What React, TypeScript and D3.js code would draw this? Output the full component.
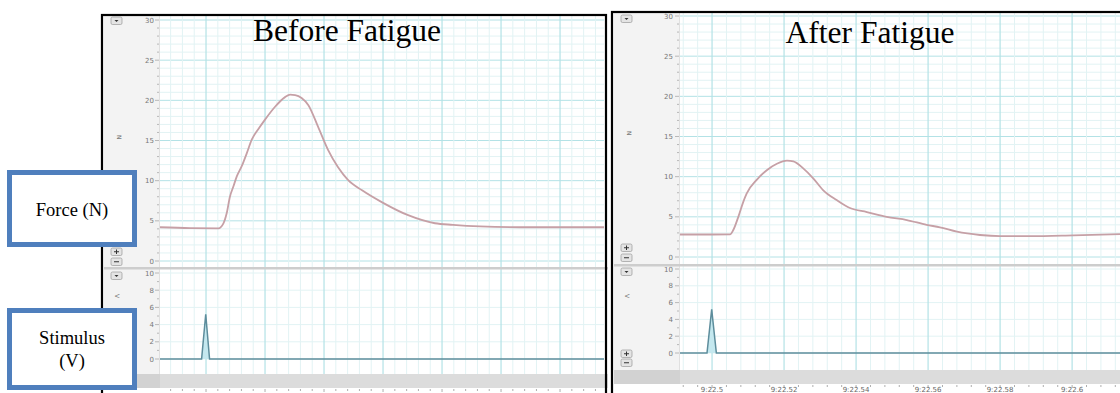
import React from "react";
import * as d3 from "d3";

// ---------- DATA ----------
// Before fatigue: time (s, relative to stimulus) and force (N)
const beforeTime = [-0.0156, -0.0054, 0.0042, 0.0059, 0.007, 0.0081, 0.0093, 0.0104, 0.0121, 0.0138, 0.0155, 0.0177, 0.02, 0.0234, 0.0268, 0.0285, 0.0302, 0.0324, 0.0347, 0.038, 0.0414, 0.0447, 0.0481, 0.0529, 0.0597, 0.0685, 0.0776, 0.0837, 0.0929, 0.1064, 0.12, 0.1349];
const beforeForce = [4.2, 4.1, 4.07, 4.69, 5.94, 8.0, 9.3, 10.5, 11.8, 13.4, 15.1, 16.4, 17.6, 19.2, 20.4, 20.7, 20.65, 20.3, 19.4, 16.7, 13.8, 11.7, 10.1, 8.8, 7.3, 5.7, 4.7, 4.5, 4.3, 4.2, 4.2, 4.2];
const beforeStimTime = [-0.0156, -0.0015, -0.0001, 0.0012, 0.1349];
const beforeStim = [0, 0, 5.2, 0, 0];

// After fatigue: clock seconds (9:22.xx) and force (N)
const afterTime = [22.4911, 22.5, 22.505, 22.5059, 22.5073, 22.5087, 22.5096, 22.5124, 22.5152, 22.518, 22.5208, 22.5226, 22.5254, 22.5281, 22.5309, 22.5346, 22.5383, 22.543, 22.5485, 22.5541, 22.5596, 22.5633, 22.568, 22.5744, 22.58, 22.5883, 22.6003, 22.6133];
const afterForce = [2.8, 2.8, 2.82, 3.36, 5.0, 6.9, 7.9, 9.6, 10.8, 11.6, 12.0, 11.9, 11.0, 9.8, 8.3, 7.1, 6.1, 5.6, 5.0, 4.6, 4.0, 3.7, 3.15, 2.74, 2.6, 2.6, 2.7, 2.85];
const afterStimTime = [22.4911, 22.4986, 22.4999, 22.5012, 22.6133];
const afterStim = [0, 0, 5.2, 0, 0];

const forceTicks = [0, 5, 10, 15, 20, 25, 30];
const stimTicks = [0, 2, 4, 6, 8, 10];
const afterTimeTicks = [22.5, 22.52, 22.54, 22.56, 22.58, 22.6];
const afterTimeLabels = ["9:22.5", "9:22.52", "9:22.54", "9:22.56", "9:22.58", "9:22.6"];
const titles = ["Before Fatigue", "After Fatigue"];
const channelLabels = ["Force (N)", "Stimulus", "(V)"];

type Cfg = {
  bx: number; by: number; rx: number; plotL: number; plotR: number;
  tDomain: [number, number]; majorStart: number;
  fY: [number, number]; sY: [number, number]; divY: number; barY: number;
  time: number[]; force: number[]; stimT: number[]; stim: number[];
  labelR: number; title: string; titleX: number; titleY: number;
  showTimeLabels: boolean; btnY: number[]; unitY: number[];
};

function Button({ x, y, kind }: { x: number; y: number; kind: string }) {
  return (
    <g>
      <rect x={x} y={y} width={11} height={7.5} rx={1.5} fill="#e4e4e4" stroke="#9a9a9a" strokeWidth={0.7} />
      {kind === "down" && <path d={`M${x + 3.5},${y + 3} L${x + 7.5},${y + 3} L${x + 5.5},${y + 5} Z`} fill="#333" />}
      {kind === "plus" && <path d={`M${x + 3},${y + 3.75} H${x + 8} M${x + 5.5},${y + 1.5} V${y + 6}`} stroke="#333" strokeWidth={1} />}
      {kind === "minus" && <path d={`M${x + 3},${y + 3.75} H${x + 8}`} stroke="#333" strokeWidth={1} />}
    </g>
  );
}

function Panel({ c }: { c: Cfg }) {
  const x = d3.scaleLinear().domain(c.tDomain).range([c.plotL, c.plotR]);
  const fy = d3.scaleLinear().domain([0, 30]).range(c.fY);
  const sy = d3.scaleLinear().domain([0, 10]).range(c.sY);
  const majors: number[] = [];
  const minors: number[] = [];
  for (let k = -10; k < 60; k++) {
    const t = c.majorStart + k * 0.004;
    if (t < c.tDomain[0] || t > c.tDomain[1]) continue;
    if (k % 5 === 0) majors.push(t); else minors.push(t);
  }
  const fMinor = d3.range(0, 31, 1);
  const sMinor = d3.range(0, 11, 1);
  const inner = c.bx + 2;
  const forceTop = c.by + 1;
  const line = d3.line<number>().x((_, i) => x(c.time[i])).y((d) => fy(d)).curve(d3.curveMonotoneX);
  const sLine = d3.line<number>().x((_, i) => x(c.stimT[i])).y((d) => sy(d));
  const sArea = d3.area<number>().x((_, i) => x(c.stimT[i])).y0(sy(0)).y1((d) => sy(d));
  const gridMajor = "#b3e2e6";
  const gridMinor = "#e2f3f4";
  return (
    <g>
      <rect x={inner} y={c.by} width={c.plotL - inner} height={400 - c.by} fill="#f3f3f3" />
      <rect x={c.plotL} y={forceTop} width={c.plotR - c.plotL} height={c.divY - forceTop} fill="#fff" />
      <rect x={c.plotL} y={c.divY} width={c.plotR - c.plotL} height={c.barY - c.divY} fill="#fff" />
      {fMinor.map((v) => (
        <line key={"fh" + v} x1={c.plotL} x2={c.plotR} y1={fy(v)} y2={fy(v)} stroke={v % 5 === 0 ? gridMajor : gridMinor} strokeWidth={1} />
      ))}
      {sMinor.filter((v) => v % 2 === 0).map((v) => (
        <line key={"sh" + v} x1={c.plotL} x2={c.plotR} y1={sy(v)} y2={sy(v)} stroke={gridMinor} strokeWidth={1} />
      ))}
      {minors.map((t) => (
        <g key={"vm" + t}>
          <line x1={x(t)} x2={x(t)} y1={forceTop} y2={c.divY} stroke={gridMinor} />
          <line x1={x(t)} x2={x(t)} y1={c.divY} y2={c.barY} stroke={gridMinor} />
        </g>
      ))}
      {majors.map((t) => (
        <g key={"vM" + t}>
          <line x1={x(t)} x2={x(t)} y1={forceTop} y2={c.divY} stroke={gridMajor} strokeWidth={1.2} />
          <line x1={x(t)} x2={x(t)} y1={c.divY} y2={c.barY} stroke={gridMajor} strokeWidth={1.2} />
        </g>
      ))}
      <line x1={c.plotL - 0.5} x2={c.plotL - 0.5} y1={forceTop} y2={c.barY} stroke="#e0e0e0" />
      {fMinor.map((v) => (
        <line key={"fr" + v} x1={c.plotL - (v % 5 === 0 ? 5 : 3)} x2={c.plotL - 1} y1={fy(v)} y2={fy(v)} stroke="#a8a8a8" strokeWidth={0.8} />
      ))}
      {sMinor.map((v) => (
        <line key={"sr" + v} x1={c.plotL - (v % 2 === 0 ? 5 : 3)} x2={c.plotL - 1} y1={sy(v)} y2={sy(v)} stroke="#a8a8a8" strokeWidth={0.8} />
      ))}
      {forceTicks.map((v) => (
        <text key={"ft" + v} x={c.labelR} y={fy(v) + 2.5} fontSize={7} fill="#777" textAnchor="end" fontFamily="DejaVu Sans">{v}</text>
      ))}
      {stimTicks.map((v) => (
        <text key={"st" + v} x={c.labelR} y={sy(v) + 2.5} fontSize={7} fill="#777" textAnchor="end" fontFamily="DejaVu Sans">{v}</text>
      ))}
      <text x={inner + 13} y={c.unitY[0]} fontSize={6} fill="#777" transform={`rotate(90 ${inner + 13} ${c.unitY[0]})`} fontFamily="DejaVu Sans">N</text>
      <text x={inner + 11} y={c.unitY[1]} fontSize={6} fill="#777" transform={`rotate(90 ${inner + 11} ${c.unitY[1]})`} fontFamily="DejaVu Sans">V</text>
      <path d={sArea(c.stim) || ""} fill="#c4e8ef" />
      <path d={sLine(c.stim) || ""} fill="none" stroke="#5d8d9c" strokeWidth={1.5} />
      <path d={line(c.force) || ""} fill="none" stroke="#c6a0a6" strokeWidth={1.8} />
      <rect x={inner} y={c.divY} width={c.plotR - inner + 4} height={2.5} fill="#cdcdcd" />
      <rect x={inner} y={c.barY} width={c.plotR - inner + 4} height={14} fill="#dcdcdc" />
      <rect x={inner} y={c.barY} width={c.plotL - inner} height={14} fill="#d2d2d2" />
      <rect x={inner} y={c.barY + 14} width={c.plotR - inner + 4} height={20} fill="#fff" />
      {majors.concat(minors).map((t) => (
        <line key={"xt" + t} x1={x(t)} x2={x(t)} y1={c.barY + 15} y2={c.barY + (majors.includes(t) ? 18 : 17)} stroke="#999" strokeWidth={0.8} />
      ))}
      {c.showTimeLabels && afterTimeTicks.map((t, i) => (
        <text key={"xl" + t} x={x(t)} y={392} fontSize={7} fill="#666" textAnchor="middle" fontFamily="DejaVu Sans">{afterTimeLabels[i]}</text>
      ))}
      <Button x={inner + 7} y={c.btnY[0]} kind="down" />
      <Button x={inner + 7} y={c.btnY[1]} kind="plus" />
      <Button x={inner + 7} y={c.btnY[2]} kind="minus" />
      <Button x={inner + 7} y={c.btnY[3]} kind="down" />
      <Button x={inner + 7} y={c.btnY[4]} kind="plus" />
      <Button x={inner + 7} y={c.btnY[5]} kind="minus" />
      <rect x={c.bx} y={c.by} width={c.rx - c.bx} height={420 - c.by} fill="none" stroke="#000" strokeWidth={2.2} />
      <text x={c.titleX} y={c.titleY} fontSize={31.5} textAnchor="middle" fontFamily="Liberation Serif" fill="#000">{c.title}</text>
    </g>
  );
}

export default function App() {
  const left: Cfg = {
    bx: 102, by: 15, rx: 606, plotL: 160, plotR: 604,
    tDomain: [beforeTime[0], beforeTime[beforeTime.length - 1]], majorStart: 0,
    fY: [261, 20], sY: [359, 273], divY: 267, barY: 374,
    time: beforeTime, force: beforeForce, stimT: beforeStimTime, stim: beforeStim,
    labelR: 154, title: titles[0], titleX: 347, titleY: 41, showTimeLabels: false,
    btnY: [17, 248, 258, 272, 355, 364], unitY: [135, 294],
  };
  const right: Cfg = {
    bx: 612, by: 12, rx: 1130, plotL: 680, plotR: 1120,
    tDomain: [afterTime[0], afterTime[afterTime.length - 1]], majorStart: 22.5,
    fY: [257, 16], sY: [353, 269], divY: 264, barY: 370,
    time: afterTime, force: afterForce, stimT: afterStimTime, stim: afterStim,
    labelR: 673, title: titles[1], titleX: 870, titleY: 43, showTimeLabels: true,
    btnY: [15, 244, 254, 268, 350, 359], unitY: [131, 294],
  };
  const boxStroke = "#4f7fbd";
  return (
    <svg width={1120} height={393} style={{ position: "absolute", left: 0, top: 0 }} xmlns="http://www.w3.org/2000/svg">
      <rect x={0} y={0} width={1120} height={393} fill="#fff" />
      <Panel c={left} />
      <Panel c={right} />
      <rect x={9.5} y={172.5} width={125} height={72} fill="#fff" stroke={boxStroke} strokeWidth={5} />
      <text x={72} y={216} fontSize={18.5} textAnchor="middle" fontFamily="Liberation Serif">{channelLabels[0]}</text>
      <rect x={9.5} y={310.5} width={125} height={77} fill="#fff" stroke={boxStroke} strokeWidth={5} />
      <text x={72} y={344} fontSize={18.5} textAnchor="middle" fontFamily="Liberation Serif">{channelLabels[1]}</text>
      <text x={72} y={367} fontSize={18.5} textAnchor="middle" fontFamily="Liberation Serif">{channelLabels[2]}</text>
    </svg>
  );
}
